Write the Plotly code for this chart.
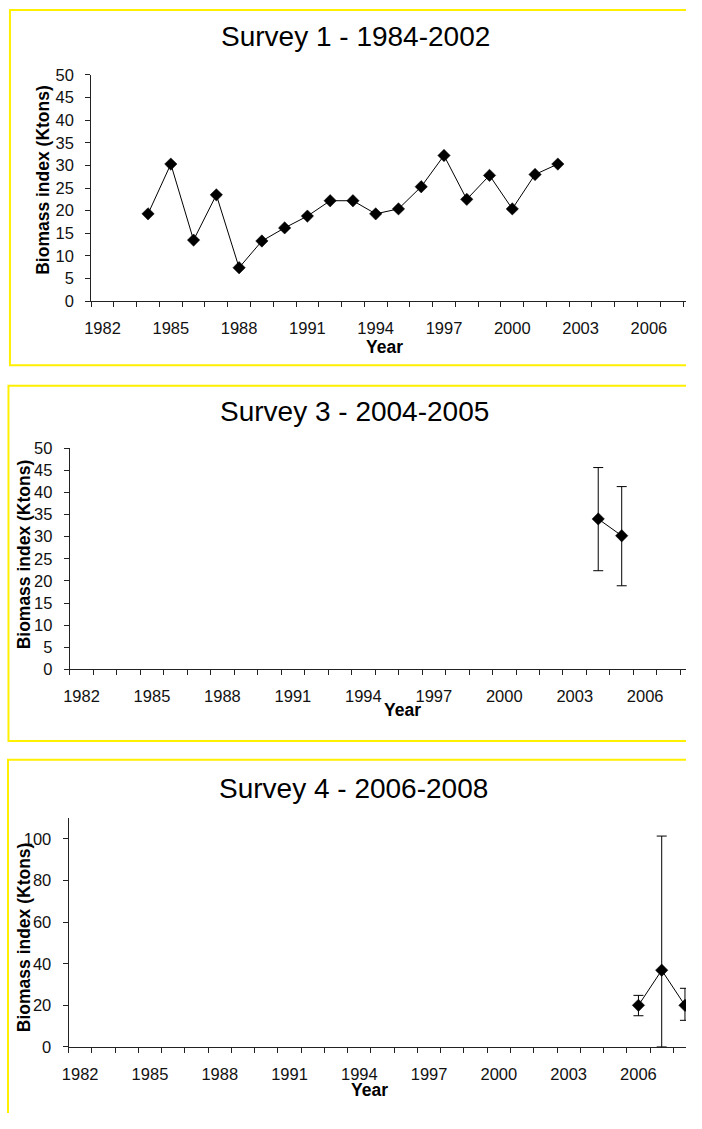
import plotly.graph_objects as go

# ---------------- data ----------------
years1 = [1984, 1985, 1986, 1987, 1988, 1989, 1990, 1991, 1992, 1993,
          1994, 1995, 1996, 1997, 1998, 1999, 2000, 2001, 2002]
biomass1 = [19.3, 30.3, 13.5, 23.5, 7.4, 13.3, 16.2, 18.8, 22.2, 22.2,
            19.3, 20.4, 25.3, 32.2, 22.5, 27.8, 20.4, 28.0, 30.3]

years3 = [2004, 2005]
biomass3 = [34.0, 30.2]
err3_plus = [11.6, 11.1]
err3_minus = [11.7, 11.3]

years4 = [2006, 2007, 2008]
biomass4 = [20.0, 36.9, 20.0]
err4_plus = [4.8, 64.5, 8.2]
err4_minus = [5.0, 36.9, 7.2]

year_labels = [1982, 1985, 1988, 1991, 1994, 1997, 2000, 2003, 2006]
titles = ["Survey 1 - 1984-2002", "Survey 3 - 2004-2005", "Survey 4 - 2006-2008"]

# ---------------- layout geometry ----------------
# the page body keeps its default 8px margin, so the figure is 16px smaller
# than the window and reference pixel positions are shifted by that margin
OFF = 8
W, H = 702 - 2 * OFF, 1129 - 2 * OFF
FONT = "Liberation Sans, Arial, sans-serif"
AXC = "#222222"

def px(x):
    return (x - OFF) / W

def py(y):
    return 1 - (y - OFF) / H

fig = go.Figure()

mk = dict(symbol="diamond", size=9.5, color="black", line=dict(color="black", width=0.5))
ln = dict(color="black", width=1)

fig.add_trace(go.Scatter(x=years1, y=biomass1, mode="lines+markers", marker=mk, line=ln,
                         xaxis="x", yaxis="y", showlegend=False, cliponaxis=False))
fig.add_trace(go.Scatter(x=years3, y=biomass3, mode="lines+markers", marker=mk, line=ln,
                         error_y=dict(type="data", array=err3_plus, arrayminus=err3_minus,
                                      symmetric=False, color="black", thickness=1, width=5),
                         xaxis="x2", yaxis="y2", showlegend=False, cliponaxis=False))
fig.add_trace(go.Scatter(x=years4, y=biomass4, mode="lines+markers", marker=mk, line=ln,
                         error_y=dict(type="data", array=err4_plus, arrayminus=err4_minus,
                                      symmetric=False, color="black", thickness=1, width=5),
                         xaxis="x3", yaxis="y3", showlegend=False, cliponaxis=False))

RIGHT = OFF + W  # right edge of the figure in reference pixels

def xaxis(left_px, px_per_year):
    return dict(
        domain=[px(left_px), 1], range=[1981.5, 1981.5 + (RIGHT - left_px) / px_per_year],
        tickmode="array", tickvals=year_labels, ticktext=[str(v) for v in year_labels],
        ticks="", showgrid=False, zeroline=False,
        showline=True, linecolor=AXC, linewidth=1,
        tickfont=dict(family=FONT, size=16.5, color="#111"),
        ticklabelstandoff=12,
        minor=dict(tick0=1981.5, dtick=1, ticks="outside", ticklen=5,
                   tickcolor=AXC, tickwidth=1, showgrid=False),
    )

def yaxis(top_px, bot_px, rng, dtick):
    return dict(
        domain=[py(bot_px), py(top_px)], range=rng, dtick=dtick, tick0=0,
        ticks="outside", ticklen=5, tickcolor=AXC, tickwidth=1,
        showgrid=False, zeroline=False, showline=True, linecolor=AXC, linewidth=1,
        tickfont=dict(family=FONT, size=16.5, color="#111"),
        ticklabelstandoff=8,
    )

fig.update_layout(
    width=W, height=H, margin=dict(l=0, r=0, t=0, b=0),
    paper_bgcolor="white", plot_bgcolor="white",
    xaxis=dict(xaxis(93, 23.0), anchor="y"),
    yaxis=dict(yaxis(75, 305, [0, 50], 5), anchor="x"),
    xaxis2=dict(xaxis(71.4, 23.73), anchor="y2"),
    yaxis2=dict(yaxis(454.3, 679.3, [0, 50], 5), anchor="x2"),
    xaxis3=dict(xaxis(70.2, 23.5), anchor="y3"),
    yaxis3=dict(yaxis(830.5, 1063, [0, 110], 20), anchor="x3"),
)

# panel frames (yellow)
frames = [(11, 9, 720, 370), (9.5, 391, 720, 752), (9, 771, 720, 1150)]
for x0, y0, x1, y1 in frames:
    fig.add_shape(type="rect", xref="paper", yref="paper",
                  x0=px(x0), x1=px(x1), y0=py(y1), y1=py(y0),
                  line=dict(color="#FFF000", width=2), fillcolor="rgba(0,0,0,0)", layer="below")

# titles
title_pos = [(360, 36), (359, 417), (358, 800)]
for t, (x, y) in zip(titles, title_pos):
    fig.add_annotation(text=t, x=px(x), y=py(y), xref="paper", yref="paper",
                       showarrow=False, xanchor="center", yanchor="middle",
                       font=dict(family=FONT, size=28, color="black"))

# axis titles
ytitle_pos = [(45, 182), (25.5, 562), (24.6, 951)]
for x, y in ytitle_pos:
    fig.add_annotation(text="<b>Biomass index (Ktons)</b>", x=px(x), y=py(y), xref="paper", yref="paper",
                       showarrow=False, xanchor="center", yanchor="middle", textangle=-90,
                       font=dict(family=FONT, size=17.5, color="black"))

xtitle_pos = [(389.5, 352), (407.5, 721), (374, 1106.5)]
for x, y in xtitle_pos:
    fig.add_annotation(text="<b>Year</b>", x=px(x), y=py(y), xref="paper", yref="paper",
                       showarrow=False, xanchor="center", yanchor="middle",
                       font=dict(family=FONT, size=17.5, color="black"))

fig.write_html("out.html", config={"displayModeBar": False})
